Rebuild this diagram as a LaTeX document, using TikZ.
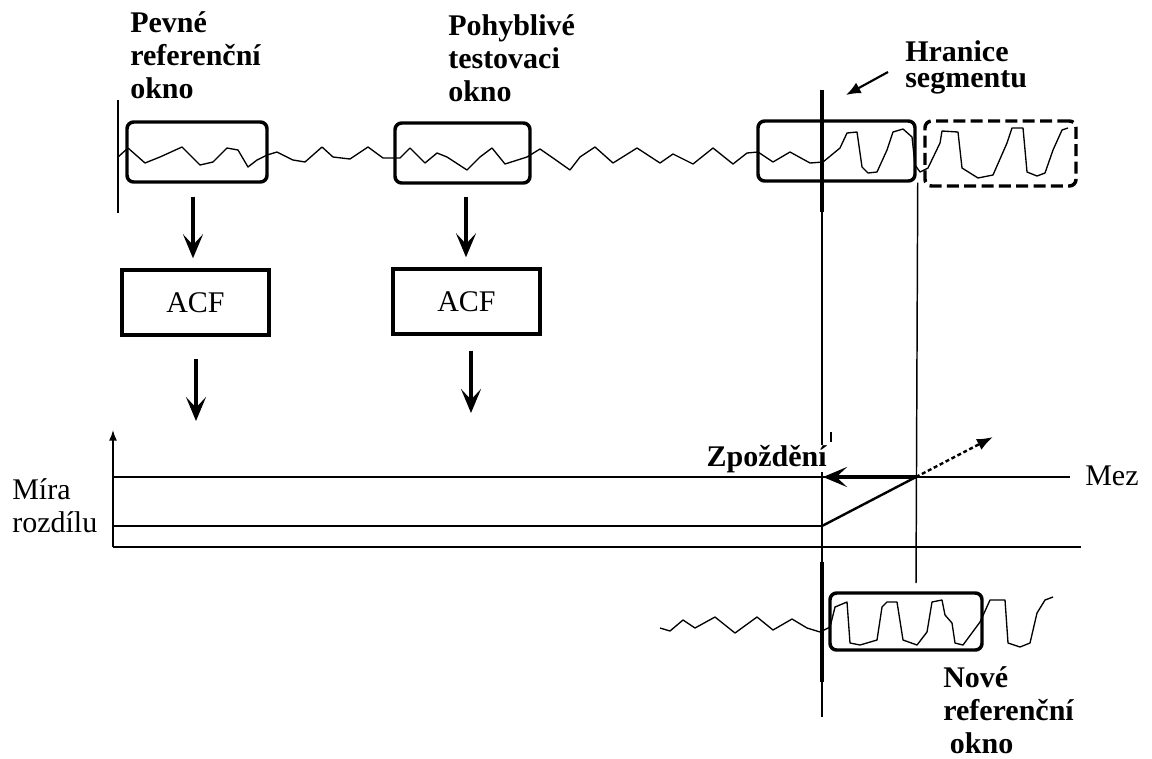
\documentclass[tikz,border=0pt]{standalone}
\usepackage{fontspec}
\setmainfont{Liberation Serif}
\usetikzlibrary{arrows.meta,calc,fit}
\begin{document}
\begin{tikzpicture}[x=0.75pt,y=-0.75pt,
  thinln/.style={line width=1.1pt},
  wave/.style={line width=1pt, line join=round},
  winbox/.style={draw, line width=2.6pt, rounded corners=5pt, inner sep=0pt},
  dashbox/.style={winbox, dash pattern=on 9pt off 4pt},
  acfbox/.style={draw, line width=2.6pt, minimum width=110.25pt, minimum height=48.75pt, inner sep=0pt, font=\fontsize{22.5}{25}\selectfont},
  lbl/.style={align=left, inner sep=0pt, anchor=base west, font=\fontsize{22.5}{24.75}\selectfont\bfseries},
  rlbl/.style={align=left, inner sep=0pt, anchor=base west, font=\fontsize{22.5}{24.75}\selectfont},
  darr/.style={line width=2.8pt, -{Stealth[length=18pt,width=15pt,inset=8pt]}},
  thkv/.style={line width=3.6pt},
]
\useasboundingbox (0,0) rectangle (1152,758);

% ---------- top signal ----------
\draw[wave] plot coordinates {(118,157) (128,148) (145,163) (160,157) (182,147) (192,157) (200,165) (213,162) (227,148) (238,150) (248,167) (257,160) (267,155) (277,152) (293,160) (305,162) (322,147) (333,157) (350,159) (368,147) (383,158) (400,158) (410,148) (425,163) (437,153) (447,157) (467,170) (480,157) (492,148) (505,164) (527,157) (540,149) (553,158) (570,170) (580,157) (595,147) (613,163) (637,148) (660,163) (673,154) (693,164) (713,148) (733,164) (747,153) (758,152) (773,162) (790,152) (810,163) (823,162) (840,148) (847,133) (857,132) (862,167) (868,173) (877,172) (887,150) (893,132) (903,129) (912,137) (915,165) (920,172) (928,168) (940,143) (942,131) (958,132) (962,168) (978,178) (993,175) (1007,143) (1012,128) (1023,128) (1027,172) (1037,176) (1045,173) (1053,150) (1062,130) (1068,128)};

% ---------- windows on top signal ----------
\node[winbox, fit={(127,122)(267,182)}] (w1) {};
\node[winbox, fit={(395,123)(530,183)}] (w2) {};
\node[winbox, fit={(758,121)(915,181)}] (w3) {};
\node[dashbox, fit={(925,121)(1076,186)}] (w4) {};

% left start line
\draw[thinln] (118,100) -- (118,213);

% segment boundary lines
\draw[thinln] (822,90) -- (822,717);
\draw[thkv] (822,90) -- (822,212);
\draw[thkv] (822,562) -- (822,682);
\draw[thinln] (w3.south east) ++(1,0) coordinate (v2top) -- (916,583) coordinate (v2bot);

% ---------- labels (anchored at the baseline of the last line) ----------
\node[lbl] (lpev) at (130,98) {Pevné\\referenční\\okno};
\node[lbl] (lpoh) at (448,101) {Pohyblivé\\testovaci\\okno};
\node[lbl, font=\fontsize{22.5}{19.5}\selectfont\bfseries] (lhr) at (905,87) {Hranice\\segmentu};
\coordinate (hrs) at (888,72);
\coordinate (hre) at (846,95);
\draw[line width=1.6pt, -{Latex[length=11pt,width=9pt]}] (hrs) -- (hre);

% ---------- ACF blocks ----------
\node[acfbox] (acf1) at (195.5,302.5) {ACF};
\node[acfbox] (acf2) at (466.5,301.5) {ACF};
\draw[darr] ($(w1.south)+(-4,13)$) -- ($(acf1.north)+(-2.5,-10)$);
\draw[darr] ($(w2.south)+(3.5,12)$) -- ($(acf2.north)+(-0.5,-10)$);
\coordinate (a2e) at (196,421);
\coordinate (a4e) at (471,413);
\draw[darr] ($(acf1.south)+(0.5,22)$) -- (a2e);
\draw[darr] ($(acf2.south)+(4.5,15)$) -- (a4e);

% ---------- difference measure graph ----------
\coordinate (O) at (113,547);
\coordinate (Ytop) at (113,430);
\coordinate (mezL) at (113,477);
\coordinate (mezR) at (1070,477);
\coordinate (lowL) at (113,526);
\coordinate (lowK) at (822,526);
\coordinate (cross) at (916,477);
\coordinate (dtip) at (993,437);
\coordinate (ztip) at (823,477);
\coordinate (botR) at (1081,547);

\draw[thinln, -{Latex[length=8pt,width=6pt]}] (O) -- (Ytop);
\draw[thinln] (mezL) -- (mezR);
\draw[thinln] (O) -- (botR);
\draw[thinln] (lowL) -- (lowK);
\draw[line width=1.8pt] (lowK) -- (cross);
\draw[line width=1.8pt, dash pattern=on 3pt off 2pt, -{Latex[length=12pt,width=9pt]}] (cross) -- (dtip);
\draw[darr] (cross) -- (ztip);

\node[rlbl] (lmira) at (12,532) {Míra\\rozdílu};
\node[rlbl] (lmez) at (1085,485) {Mez};
\node[lbl, anchor=base east, fill=white] (lzp) at (827,466) {Zpoždění};
\draw[line width=0.8pt] (831,432) -- (831,442);

% ---------- bottom: new reference window ----------
\draw[wave] plot coordinates {(660,628) (670,631) (683,620) (695,628) (715,617) (735,633) (757,617) (773,630) (792,619) (807,628) (820,632) (830,627) (835,607) (847,602) (850,643) (860,645) (877,640) (882,607) (887,602) (897,602) (903,640) (917,645) (927,632) (932,602) (942,600) (945,615) (952,623) (955,643) (963,645) (980,622) (990,600) (1005,600) (1008,643) (1020,647) (1030,643) (1037,613) (1045,600) (1053,597)};
\node[winbox, fit={(830,593)(982,650)}] (w5) {};
\node[lbl] (lnove) at (943,753) {Nové\\referenční\\\hspace{5pt}okno};
\end{tikzpicture}
\end{document}
